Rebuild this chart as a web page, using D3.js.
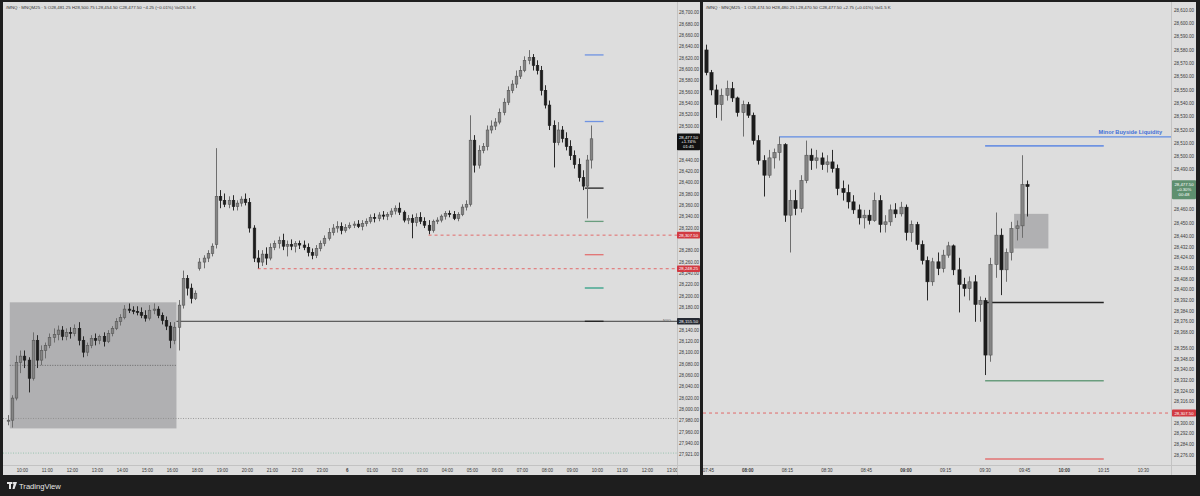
<!DOCTYPE html>
<html><head><meta charset="utf-8">
<script src="https://cdn.jsdelivr.net/npm/d3@7"></script>
<style>html,body{margin:0;padding:0;background:#1e1e1e;overflow:hidden}svg{display:block;font-family:"Liberation Sans",Arial,sans-serif}</style>
</head><body>
<svg id="c" width="1200" height="496"></svg>
<script>
// ---------------- DATA ----------------
// Left chart: /MNQ 10-minute bars, first bar 09:20, session break 17:00-18:00
const leftFirstBar = "09:20";
const leftBarMinutes = 10;
const leftOpen = [27981,27981,28020,28083,28094,28087,28055,28122,28087,28104,28113,28127,28132,28140,28129,28136,28134,28143,28122,28101,28113,28125,28122,28129,28120,28134,28143,28155,28162,28177,28175,28173,28171,28166,28161,28175,28177,28166,28157,28147,28122,28145,28184,28231,28214,28196,
28249,28260,28267,28275,28291,28376,28369,28362,28369,28358,28364,28371,28365,28320,28267,28260,28274,28267,28286,28293,28298,28288,28291,28288,28293,28290,28286,28277,28272,28284,28293,28302,28312,28320,28323,28316,28321,28325,28327,28323,28328,28332,28339,28337,28343,28341,28344,28350,28355,28348,28334,28337,28330,28339,28332,28325,28316,28332,28334,28341,28346,28344,28337,28344,28357,28362,28475,28431,28457,28464,28493,28500,28507,28524,28542,28563,28574,28588,28598,28616,28621,28607,28598,28563,28537,28501,28471,28493,28478,28464,28448,28432,28409,28394,28440];
const leftHigh = [27990,28025,28095,28104,28104,28092,28136,28131,28113,28118,28134,28143,28148,28147,28143,28145,28150,28154,28129,28118,28131,28134,28132,28136,28140,28147,28161,28168,28184,28187,28182,28182,28180,28175,28184,28187,28182,28171,28164,28154,28154,28193,28245,28237,28222,28210,
28267,28272,28281,28293,28461,28387,28381,28376,28378,28369,28376,28381,28373,28325,28281,28281,28286,28293,28298,28305,28310,28298,28300,28297,28298,28298,28293,28284,28290,28298,28307,28320,28327,28332,28330,28327,28330,28332,28334,28334,28337,28344,28346,28348,28350,28348,28355,28360,28365,28351,28343,28344,28346,28348,28339,28334,28335,28339,28344,28350,28351,28350,28348,28362,28369,28519,28484,28466,28470,28501,28510,28514,28531,28549,28570,28581,28598,28606,28623,28634,28627,28616,28606,28572,28545,28510,28507,28500,28489,28475,28457,28443,28422,28449,28501];
const leftLow = [27972,27968,28016,28064,28073,28030,28051,28073,28078,28090,28108,28118,28122,28122,28122,28125,28129,28113,28092,28094,28108,28113,28115,28111,28117,28129,28140,28148,28159,28170,28168,28166,28161,28155,28157,28168,28161,28150,28140,28108,28115,28104,28178,28201,28187,28193,
28245,28249,28260,28270,28284,28355,28357,28355,28351,28351,28358,28360,28312,28260,28249,28253,28255,28263,28281,28284,28281,28270,28281,28277,28283,28281,28270,28265,28267,28279,28288,28298,28307,28312,28309,28312,28318,28320,28320,28316,28323,28328,28330,28332,28335,28334,28339,28344,28343,28330,28327,28302,28323,28327,28320,28309,28312,28327,28330,28335,28339,28334,28332,28341,28351,28358,28418,28425,28452,28457,28487,28493,28503,28519,28537,28558,28567,28583,28595,28609,28598,28591,28554,28531,28493,28427,28466,28471,28457,28440,28425,28402,28387,28337,28425];
const leftClose = [27981,28020,28083,28094,28087,28055,28122,28087,28104,28113,28127,28132,28140,28129,28136,28134,28143,28122,28101,28113,28125,28122,28129,28120,28134,28143,28155,28162,28177,28175,28173,28171,28166,28161,28175,28177,28166,28157,28147,28122,28145,28184,28231,28214,28196,28205,
28260,28267,28275,28288,28376,28369,28362,28369,28358,28364,28371,28365,28320,28267,28260,28274,28267,28286,28293,28298,28288,28291,28288,28293,28290,28286,28277,28272,28284,28293,28302,28312,28320,28323,28316,28321,28325,28327,28323,28328,28332,28339,28337,28343,28341,28344,28350,28355,28348,28334,28337,28330,28339,28332,28325,28316,28332,28334,28341,28346,28344,28337,28344,28357,28362,28475,28431,28457,28464,28493,28500,28507,28524,28542,28563,28574,28588,28598,28616,28621,28607,28598,28563,28537,28501,28471,28493,28478,28464,28448,28432,28409,28394,28440,28477.5];

const leftTickLabels = ["10:00","11:00","12:00","13:00","14:00","15:00","16:00","18:00","19:00","20:00","21:00","22:00","23:00","6","01:00","02:00","03:00","04:00","05:00","06:00","07:00","08:00","09:00","10:00","11:00","12:00","13:00"];
const leftTickClock  = ["10:00","11:00","12:00","13:00","14:00","15:00","16:00","18:00","19:00","20:00","21:00","22:00","23:00","00:00","01:00","02:00","03:00","04:00","05:00","06:00","07:00","08:00","09:00","10:00","11:00","12:00","13:00"];
const leftPriceTicks = [28700,28680,28660,28640,28620,28600,28580,28560,28540,28520,28500,28440,28420,28400,28380,28360,28340,28320,28280,28260,28240,28220,28200,28180,28140,28120,28100,28080,28060,28040,28020,28000,27980,27960,27940,27921];

// Right chart: /MNQ 2-minute bars, first bar 07:43
const rightFirstBar = "07:43";
const rightBarMinutes = 2;
const rightOpen  = [28580,28563,28550,28539,28546,28551,28544,28533,28539,28531,28512,28497,28486,28499,28503,28509,28456,28467,28461,28482,28501,28497,28499,28494,28496,28491,28476,28473,28466,28460,28454,28456,28452,28467,28449,28451,28460,28457,28462,28443,28449,28434,28422,28406,28421,28416,28426,28433,28415,28404,28401,28406,28389,28392,28351,28419,28441,28415,28428,28446,28448,28479];
const rightHigh  = [28584,28565,28554,28551,28557,28556,28545,28542,28541,28533,28516,28501,28505,28506,28515,28510,28475,28475,28486,28512,28506,28505,28503,28501,28505,28494,28482,28479,28471,28464,28460,28460,28473,28471,28456,28464,28465,28466,28464,28452,28451,28437,28425,28424,28428,28430,28436,28434,28424,28409,28410,28411,28395,28394,28424,28458,28446,28431,28451,28452,28501,28482];
const rightLow   = [28561,28546,28529,28527,28542,28541,28530,28515,28529,28509,28494,28470,28484,28491,28497,28451,28428,28456,28458,28480,28490,28491,28490,28488,28488,28471,28467,28461,28457,28449,28446,28449,28451,28443,28443,28448,28454,28455,28437,28436,28430,28419,28392,28403,28411,28413,28424,28411,28383,28395,28392,28376,28376,28336,28346,28409,28396,28406,28422,28437,28439,28455];
const rightClose = [28563,28550,28539,28546,28551,28544,28533,28539,28531,28512,28497,28486,28499,28503,28509,28456,28467,28461,28482,28501,28497,28499,28494,28496,28491,28476,28473,28466,28460,28454,28456,28452,28467,28449,28451,28460,28457,28462,28443,28449,28434,28422,28406,28421,28416,28426,28433,28415,28404,28401,28406,28389,28392,28351,28419,28441,28415,28428,28446,28448,28479,28477.5];

const rightTickLabels = ["07:45","08:00","08:15","08:30","08:45","09:00","09:15","09:30","09:45","10:00","10:15","10:30"];
const rightPriceTicks = [28610,28600,28590,28580,28570,28560,28550,28540,28530,28520,28510,28500,28490,28460,28450,28440,28432,28424,28416,28408,28400,28392,28384,28376,28368,28356,28348,28340,28332,28324,28316,28300,28292,28284,28276];

// Levels (deviation projections) shared by both charts
const levelPrices = [28625.5,28508,28390.5,28331.75,28273,28214.25,28155.5];
const levelNames  = ["blue","blue","black","green","red","teal","black"];
const keyLevelPrice = 28155.5;
const redLevels = [28307.5, 28248.25];
const lastPrice = 28477.5;
const buysidePrice = 28514.75;
const buysideLabel = "Minor Buyside Liquidity";
const sessionBox = {from:"09:30", to:"16:10", low:27966.5, high:28189};
const openLevel = 27984;
const lowLevel = 27923;
const rightBox = {from:"09:41", to:"09:54", low:28431, high:28457};

// ---------------- RENDER ----------------
const svg = d3.select("#c");
const BG = "#1e1e1e", PANEL = "#dddddd", AX = "#3a3a3a";
const colors = {blue:"#6f93e2", black:"#222222", green:"#6a9d7e", red:"#e27272", teal:"#2fa085"};
svg.append("rect").attr("width",1200).attr("height",496).attr("fill",BG);

const toMin = s => { const [h,m]=s.split(":").map(Number); return h*60+m; };
// Left trading minutes since 09:30, 17:00-18:00 gap removed
const leftT = (clock, session) => session===0 ? toMin(clock)-570 : 450 + ((toMin(clock)-1080+1440)%1440);

const LP = {x0:3, x1:700, plotR:677, y0:2, plotB:465, y1:475};
const RP = {x0:703, x1:1196, plotR:1171, y0:2, plotB:465, y1:475};

const xL = d3.scaleLinear().domain([0,1590]).range([9.8,672.3]);
const yL = d3.scaleLinear().domain([28700,27921]).range([12.7,454.2]);
const xR = d3.scaleLinear().domain([465,630]).range([708.3,1143.3]);
const yR = d3.scaleLinear().domain([28610,28276]).range([10,455]);

function panel(P, id){
  svg.append("rect").attr("x",P.x0).attr("y",P.y0).attr("width",P.x1-P.x0).attr("height",P.y1-P.y0).attr("fill",PANEL);
  svg.append("line").attr("x1",P.plotR+0.5).attr("x2",P.plotR+0.5).attr("y1",P.y0).attr("y2",P.y1).attr("stroke","#c3c3c3");
  svg.append("line").attr("x1",P.x0).attr("x2",P.x1).attr("y1",P.plotB+0.5).attr("y2",P.plotB+0.5).attr("stroke","#c3c3c3");
  svg.append("clipPath").attr("id",id).append("rect").attr("x",P.x0).attr("y",P.y0).attr("width",P.plotR-P.x0).attr("height",P.plotB-P.y0);
  return svg.append("g").attr("clip-path",`url(#${id})`);
}
const gL = panel(LP,"clipL");
const gR = panel(RP,"clipR");

function candles(g, O,Hh,Lw,C, xc, y, bw){
  const data = O.map((o,i)=>({o,h:Hh[i],l:Lw[i],c:C[i],x:xc(i)}));
  const cg = g.append("g");
  cg.selectAll("line.w").data(data).join("line")
    .attr("x1",d=>Math.round(d.x)+0.5).attr("x2",d=>Math.round(d.x)+0.5)
    .attr("y1",d=>y(d.h)).attr("y2",d=>y(d.l))
    .attr("stroke",d=>d.c>=d.o?"#6e6e6e":"#2a2a2a").attr("stroke-width",1);
  cg.selectAll("rect.b").data(data).join("rect")
    .attr("x",d=>Math.round(d.x)+0.5-bw/2).attr("width",bw)
    .attr("y",d=>y(Math.max(d.o,d.c))).attr("height",d=>Math.max(1,Math.abs(y(d.o)-y(d.c))))
    .attr("fill",d=>d.c>=d.o?"#858585":"#1c1c1c")
    .attr("stroke",d=>d.c>=d.o?"#555555":"#1c1c1c").attr("stroke-width",0.6);
}

// ---------- LEFT CHART ----------
const lx0 = xL(leftT(sessionBox.from,0)), lx1 = xL(leftT(sessionBox.to,0));
gL.append("rect").attr("x",lx0).attr("width",lx1-lx0).attr("y",yL(sessionBox.high)).attr("height",yL(sessionBox.low)-yL(sessionBox.high)).attr("fill","#b0b0b2");
gL.append("line").attr("x1",lx0).attr("x2",lx1).attr("y1",yL((sessionBox.high+sessionBox.low)/2)).attr("y2",yL((sessionBox.high+sessionBox.low)/2)).attr("stroke","#555").attr("stroke-dasharray","1,1.5").attr("stroke-width",0.8);
gL.append("line").attr("x1",LP.x0).attr("x2",LP.plotR).attr("y1",yL(openLevel)).attr("y2",yL(openLevel)).attr("stroke","#8a8a8a").attr("stroke-dasharray","1,1.5").attr("stroke-width",0.8);
gL.append("line").attr("x1",LP.x0).attr("x2",LP.plotR).attr("y1",yL(lowLevel)).attr("y2",yL(lowLevel)).attr("stroke","#86bca3").attr("stroke-dasharray","1,1.5").attr("stroke-width",0.8);
gL.append("line").attr("x1",lx1).attr("x2",LP.plotR).attr("y1",yL(keyLevelPrice)).attr("y2",yL(keyLevelPrice)).attr("stroke","#3c3c3c").attr("stroke-width",1);
gL.append("text").attr("x",667).attr("y",yL(keyLevelPrice)+1.2).attr("text-anchor","middle").attr("font-size",3.6).attr("fill","#666").text("NYO");
const redStartsL = [leftT("03:15",1), leftT("20:25",1)];
redLevels.forEach((p,i)=>{
  gL.append("line").attr("x1",xL(redStartsL[i])).attr("x2",LP.plotR).attr("y1",yL(p)).attr("y2",yL(p)).attr("stroke","#e26a6a").attr("stroke-dasharray","3,3").attr("stroke-width",1);
});
levelPrices.forEach((p,i)=>{
  gL.append("line").attr("x1",xL(leftT("09:30",1))).attr("x2",xL(leftT("10:15",1))).attr("y1",yL(p)).attr("y2",yL(p)).attr("stroke",colors[levelNames[i]]).attr("stroke-width",1.3);
});
const leftStart = toMin(leftFirstBar)-570;
candles(gL,leftOpen,leftHigh,leftLow,leftClose,i=>xL(leftStart+i*leftBarMinutes+leftBarMinutes/2),yL,2.6);

// left axes
const lyAx = svg.append("g").attr("font-size",4.5).attr("fill",AX).attr("text-anchor","middle");
leftPriceTicks.forEach(p=>lyAx.append("text").attr("x",689).attr("y",yL(p)+1.6).text(d3.format(",.2f")(p)));
svg.append("clipPath").attr("id","clipLX").append("rect").attr("x",LP.x0).attr("y",LP.plotB).attr("width",LP.plotR-LP.x0).attr("height",10);
const lxAx = svg.append("g").attr("clip-path","url(#clipLX)").attr("font-size",4.5).attr("fill",AX).attr("text-anchor","middle");
leftTickLabels.forEach((lab,i)=>lxAx.append("text").attr("x",xL(leftT(leftTickClock[i], i<7?0:1))).attr("y",471.6).attr("font-weight",lab==="6"?"bold":"normal").text(lab));

function priceLabel(x0,w,yc,lines,bg,topPad,lh,fs){
  const h = topPad*2 + lh*(lines.length-1) + fs*0.8;
  const g = svg.append("g");
  g.append("rect").attr("x",x0).attr("y",yc-topPad-fs*0.4).attr("width",w).attr("height",h).attr("fill",bg).attr("rx",0.8);
  lines.forEach((t,i)=>g.append("text").attr("x",x0+w/2).attr("y",yc+fs*0.36+i*lh).attr("text-anchor","middle").attr("font-size",fs).attr("fill","#fff").text(t));
}
const fmt = d3.format(",.2f");
priceLabel(677,23,yL(lastPrice)-1.5,[fmt(lastPrice),"+1.74%","01:45"],"#111111",2,4.6,4.3);
redLevels.forEach(p=>priceLabel(677,23,yL(p),[fmt(p)],"#d23a42",1.6,0,4.3));
priceLabel(677,23,yL(keyLevelPrice),[fmt(keyLevelPrice)],"#262a33",1.6,0,4.3);

// ---------- RIGHT CHART ----------
gR.append("line").attr("x1",RP.x0).attr("x2",RP.plotR).attr("y1",yR(redLevels[0])).attr("y2",yR(redLevels[0])).attr("stroke","#e26a6a").attr("stroke-dasharray","3,3").attr("stroke-width",1);
gR.append("line").attr("x1",xR(toMin("08:12"))).attr("x2",RP.plotR).attr("y1",yR(buysidePrice)).attr("y2",yR(buysidePrice)).attr("stroke","#5f8be3").attr("stroke-width",1.2);
gR.append("text").attr("x",1162).attr("y",yR(buysidePrice)-3.2).attr("text-anchor","end").attr("font-size",5.6).attr("font-weight","bold").attr("fill","#3f6fd8").text(buysideLabel);
gR.append("rect").attr("x",xR(toMin(rightBox.from))).attr("width",xR(toMin(rightBox.to))-xR(toMin(rightBox.from))).attr("y",yR(rightBox.high)).attr("height",yR(rightBox.low)-yR(rightBox.high)).attr("fill","#b0b0b2");
levelPrices.forEach((p,i)=>{
  const yy = yR(p);
  if(yy<RP.y0||yy>RP.plotB) return;
  gR.append("line").attr("x1",xR(toMin("09:30"))).attr("x2",xR(toMin("10:15"))).attr("y1",yy).attr("y2",yy).attr("stroke",colors[levelNames[i]]).attr("stroke-width",1.6);
});
const rightStart = toMin(rightFirstBar);
candles(gR,rightOpen,rightHigh,rightLow,rightClose,i=>xR(rightStart+i*rightBarMinutes+rightBarMinutes/2),yR,3.2);

const ryAx = svg.append("g").attr("font-size",4.5).attr("fill",AX).attr("text-anchor","middle");
rightPriceTicks.forEach(p=>ryAx.append("text").attr("x",1184).attr("y",yR(p)+1.6).text(fmt(p)));
const rxAx = svg.append("g").attr("font-size",4.5).attr("fill",AX).attr("text-anchor","middle");
rightTickLabels.forEach(lab=>rxAx.append("text").attr("x",xR(toMin(lab))).attr("y",471.6).attr("font-weight",lab.endsWith(":00")?"bold":"normal").text(lab));
priceLabel(1172,24,yR(lastPrice)-2,[fmt(lastPrice),"+0.30%","00:48"],"#5e8f6f",2.5,5.2,4.3);
priceLabel(1172,24,yR(redLevels[0]),[fmt(redLevels[0])],"#d23a42",1.7,0,4.3);

// headers
svg.append("text").attr("x",6).attr("y",9.4).attr("font-size",4.4).attr("fill","#333")
  .text("/MNQ · MNQM25 · 5   O28,481.25  H28,500.75  L28,454.50  C28,477.50  −4.25 (−0.01%)   Vol26.54 K");
svg.append("text").attr("x",706).attr("y",9.4).attr("font-size",4.4).attr("fill","#333")
  .text("/MNQ · MNQM25 · 1   O28,474.50  H28,480.25  L28,470.50  C28,477.50  +2.75 (+0.01%)   Vol1.5 K");

// TradingView logo
const logo = svg.append("g").attr("fill","#e6e6e6");
logo.append("rect").attr("x",7).attr("y",482).attr("width",5).attr("height",2);
logo.append("rect").attr("x",9).attr("y",482).attr("width",2).attr("height",7);
logo.append("circle").attr("cx",13.3).attr("cy",483).attr("r",1);
logo.append("path").attr("d","M14 482 L17 482 L14.5 489 L12.5 489 Z");
svg.append("text").attr("x",19).attr("y",489).attr("font-size",7.6).attr("fill","#e6e6e6").text("TradingView");
</script>
</body></html>
